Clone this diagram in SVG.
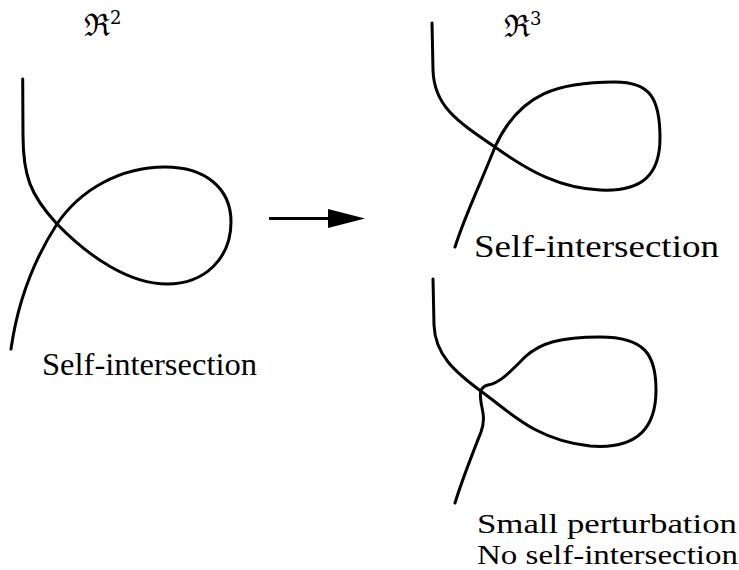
<svg xmlns="http://www.w3.org/2000/svg" width="739" height="570" viewBox="0 0 739 570">
<style>
.curve{fill:none;stroke:#000;stroke-width:3;stroke-linecap:round;stroke-linejoin:round}
.lbl{font-family:"Liberation Serif","Times New Roman",serif;font-size:32px;fill:#000}
.lbl2{font-family:"Liberation Serif","Times New Roman",serif;font-size:28px;fill:#000}
.sym{font-family:"DejaVu Serif","Liberation Serif",serif;fill:#000}
</style>
<rect width="739" height="570" fill="#fff"/>
<g id="left">
<text class="sym" x="84" y="36" font-size="31">ℜ<tspan font-size="18" dy="-12">2</tspan></text>
<path class="curve" d="M 22.7 79 L 23 135 C 23 175, 30 195, 57 224 C 90 258, 130 284, 167 284 C 205 284, 231 258, 231 222 C 231 188, 205 167, 165 167 C 120 167, 80 190, 57 224 C 35 258, 18 300, 11 349"/>
<text class="lbl" x="42" y="375" textLength="215" lengthAdjust="spacingAndGlyphs">Self-intersection</text>
</g>
<g id="connectors">
<line x1="269" y1="218.5" x2="332" y2="218.5" stroke="#000" stroke-width="3"/>
<polygon points="328,209 365,218.5 328,228" fill="#000"/>
</g>
<g id="right-top">
<text class="sym" x="504" y="37" font-size="31">ℜ<tspan font-size="18" dy="-12">3</tspan></text>
<path class="curve" d="M 432 23 L 433 70 C 434 105, 455 120, 495 147 C 530 172, 560 188, 600 190 C 642 192, 660 175, 660 138 C 660 98, 650 82, 615 82 C 560 82, 520 92, 495 147 C 480 185, 465 215, 455 247"/>
<text class="lbl" x="474" y="257" textLength="245" lengthAdjust="spacingAndGlyphs">Self-intersection</text>
</g>
<g id="right-bottom">
<path class="curve" d="M 433 279 L 434 325 C 435 355, 455 372, 482 392 C 510 412, 535 440, 590 446 C 640 450, 656 425, 656 390 C 656 355, 645 337, 600 337 C 560 337, 540 343, 525 357 C 510 372, 500 383, 488 385 C 479 387, 480 395, 481 402 C 482 410, 486 418, 481 432 C 470 460, 462 480, 455 503"/>
<text class="lbl2" x="477" y="533" textLength="260" lengthAdjust="spacingAndGlyphs">Small perturbation</text>
<text class="lbl2" x="477" y="564" textLength="261" lengthAdjust="spacingAndGlyphs">No self-intersection</text>
</g>
</svg>
